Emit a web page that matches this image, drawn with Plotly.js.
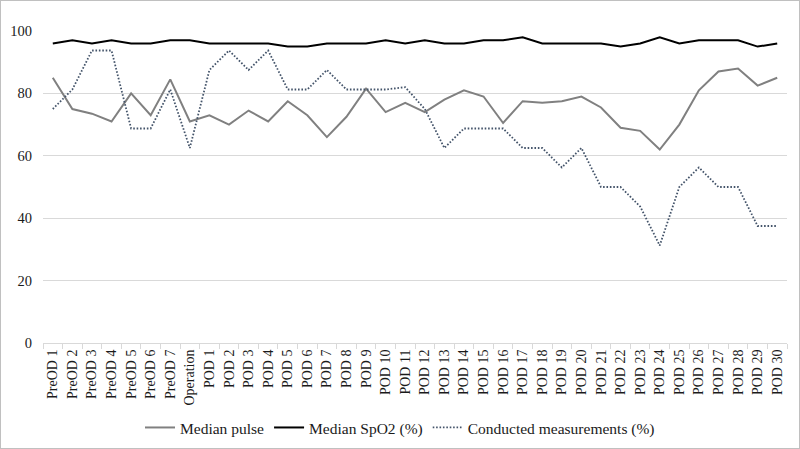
<!DOCTYPE html>
<html>
<head>
<meta charset="utf-8">
<script src="https://cdn.plot.ly/plotly-3.0.1.min.js"></script>
<style>
html, body { margin: 0; padding: 0; background: #fff; }
#wrap { width: 800px; height: 449px; box-sizing: border-box; border: 1px solid #c0c0c0; overflow: hidden; }
#chart { width: 798px; height: 447px; }
</style>
</head>
<body>
<div id="wrap"><div id="chart"></div></div>
<script>
const categories = ["PreOD 1","PreOD 2","PreOD 3","PreOD 4","PreOD 5","PreOD 6","PreOD 7","Operation",
  "POD 1","POD 2","POD 3","POD 4","POD 5","POD 6","POD 7","POD 8","POD 9","POD 10",
  "POD 11","POD 12","POD 13","POD 14","POD 15","POD 16","POD 17","POD 18","POD 19","POD 20",
  "POD 21","POD 22","POD 23","POD 24","POD 25","POD 26","POD 27","POD 28","POD 29","POD 30"];

const medianPulse = [85, 75, 73.5, 71, 80, 73, 84.5, 71,
  73, 70, 74.5, 71, 77.5, 73, 66, 72.5, 81.5, 74,
  77, 74, 78, 81, 79, 70.5, 77.5, 77, 77.5, 79,
  75.5, 69, 68, 62, 70, 81, 87, 88, 82.5, 85];

const medianSpO2 = [96, 97, 96, 97, 96, 96, 97, 97,
  96, 96, 96, 96, 95, 95, 96, 96, 96, 97,
  96, 97, 96, 96, 97, 97, 98, 96, 96, 96,
  96, 95, 96, 98, 96, 97, 97, 97, 95, 96];

const conducted = [75, 81.25, 93.75, 93.75, 68.75, 68.75, 81.25, 62.5,
  87.5, 93.75, 87.5, 93.75, 81.25, 81.25, 87.5, 81.25, 81.25, 81.25,
  82, 75, 62.5, 68.75, 68.75, 68.75, 62.5, 62.5, 56.25, 62.5,
  50, 50, 43.75, 31.25, 50, 56.25, 50, 50, 37.5, 37.5];

const yTicks = [0, 20, 40, 60, 80, 100];

const traces = [
  { x: categories, y: medianPulse, type: 'scatter', mode: 'lines', name: 'Median pulse',
    line: { color: '#808080', width: 2 } },
  { x: categories, y: medianSpO2, type: 'scatter', mode: 'lines', name: 'Median SpO2 (%)',
    line: { color: '#000000', width: 2 } },
  { x: categories, y: conducted, type: 'scatter', mode: 'lines', name: 'Conducted measurements (%)',
    line: { color: '#44546a', width: 1.8, dash: '1.6px,1.8px' } }
];

const layout = {
  width: 798, height: 447,
  margin: { l: 42, r: 12, t: 30, b: 105 },
  paper_bgcolor: '#ffffff', plot_bgcolor: '#ffffff',
  font: { family: '"Liberation Serif", "Times New Roman", serif', size: 14, color: '#1a1a1a' },
  showlegend: true,
  legend: { orientation: 'h', x: 0.5, xanchor: 'center', xref: 'container',
    y: 0.045, yanchor: 'middle', yref: 'container',
    font: { size: 15.5 }, traceorder: 'normal', bgcolor: 'rgba(0,0,0,0)' },
  xaxis: {
    type: 'category', range: [-0.5, categories.length - 0.5], automargin: false,
    tickangle: -90, showgrid: false, showline: true, linecolor: '#d9d9d9', linewidth: 1,
    ticks: 'outside', tickson: 'boundaries', ticklen: 5, tickcolor: '#d9d9d9',
    tickfont: { size: 14 }, fixedrange: true
  },
  yaxis: {
    range: [0, 100], tickvals: yTicks, ticktext: yTicks.map(String), automargin: false,
    showgrid: true, gridcolor: '#d9d9d9', gridwidth: 1, zeroline: false, showline: false,
    ticks: '', ticklabelstandoff: 10, tickfont: { size: 14.5 }, fixedrange: true
  }
};

Plotly.newPlot('chart', traces, layout, { displayModeBar: false, staticPlot: true });
</script>
</body>
</html>
